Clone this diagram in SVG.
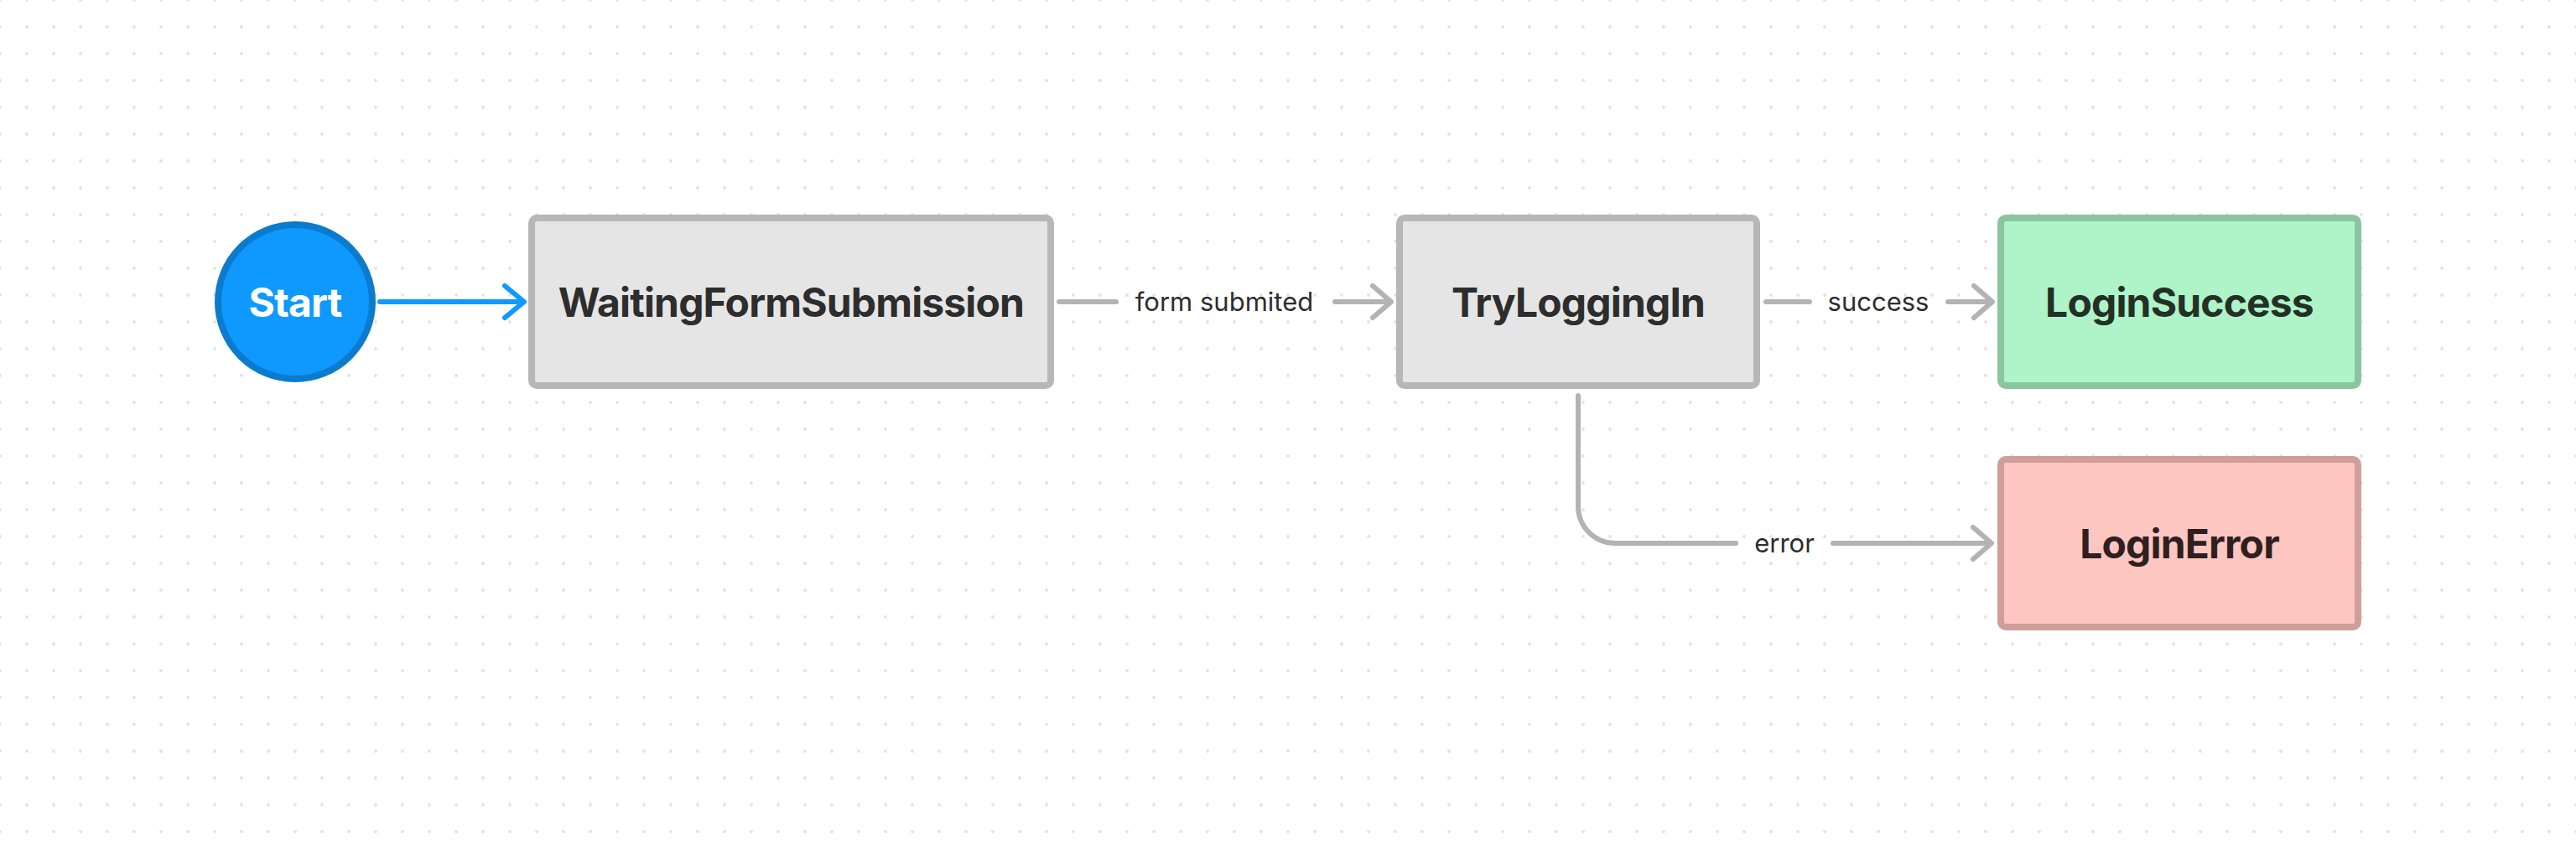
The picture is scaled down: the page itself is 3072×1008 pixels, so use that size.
<svg xmlns="http://www.w3.org/2000/svg" width="3072" height="1008" viewBox="0 0 3072 1008">
  <defs>
    <pattern id="dots" patternUnits="userSpaceOnUse" x="-16" y="-16" width="32" height="32">
      <circle cx="16" cy="16" r="1.9" fill="#e2e2e2"/>
    </pattern>
    <style>
      .node-text { font-family: Inter, "Liberation Sans", sans-serif; font-weight: 700; font-size: 48px; letter-spacing: -0.85px; text-anchor: middle; }
      .label { font-family: Inter, "Liberation Sans", sans-serif; font-weight: 400; font-size: 31px; text-anchor: middle; fill: #2d2d2d; }
      .gray { fill: #e5e5e5; stroke: #b7b7b7; stroke-width: 8; }
      .green { fill: #aef4c8; stroke: #8bc4a0; stroke-width: 8; }
      .red { fill: #fdc6c1; stroke: #d09e9a; stroke-width: 8; }
      .edge { fill: none; stroke: #b3b3b3; stroke-width: 6; stroke-linecap: round; stroke-linejoin: round; }
      .edge-start { fill: none; stroke: #1199ff; stroke-width: 6; stroke-linecap: round; stroke-linejoin: round; }
    </style>
  </defs>
  <rect width="3072" height="1008" fill="#ffffff"/>
  <rect width="3072" height="1008" fill="url(#dots)"/>

  <g id="connectors">
    <g id="edge-start">
      <path class="edge-start" d="M453 360 H624"/>
      <path class="edge-start" d="M602 341 L625 360 L602 379"/>
    </g>
    <g id="edge-form-submited">
      <path class="edge" d="M1263 360 H1331"/>
      <path class="edge" d="M1592 360 H1657"/>
      <path class="edge" d="M1637 341 L1659 360 L1637 379"/>
      <text class="label" x="1460" y="371">form submited</text>
    </g>
    <g id="edge-success">
      <path class="edge" d="M2106 360 H2158"/>
      <path class="edge" d="M2323 360 H2374"/>
      <path class="edge" d="M2354 341 L2376 360 L2354 379"/>
      <text class="label" x="2240" y="371">success</text>
    </g>
    <g id="edge-error">
      <path class="edge" d="M1882 472 V604 A44 44 0 0 0 1926 648 H2070"/>
      <path class="edge" d="M2186 648 H2373"/>
      <path class="edge" d="M2353 629 L2375 648 L2353 667"/>
      <text class="label" x="2128" y="659">error</text>
    </g>
  </g>

  <g id="node-start">
    <circle cx="352" cy="360" r="92" fill="#0f99ff" stroke="#0b7bcd" stroke-width="8"/>
    <text class="node-text" x="352" y="378" fill="#ffffff">Start</text>
  </g>
  <g id="node-waiting">
    <rect class="gray" x="634" y="260" width="619" height="200" rx="6"/>
    <text class="node-text" x="943.5" y="378" fill="#2d2d2d">WaitingFormSubmission</text>
  </g>
  <g id="node-trylogging">
    <rect class="gray" x="1669" y="260" width="426" height="200" rx="6"/>
    <text class="node-text" x="1882" y="378" fill="#2d2d2d">TryLoggingIn</text>
  </g>
  <g id="node-success">
    <rect class="green" x="2386" y="260" width="426" height="200" rx="6"/>
    <text class="node-text" x="2599" y="378" fill="#243026">LoginSuccess</text>
  </g>
  <g id="node-error">
    <rect class="red" x="2386" y="548" width="426" height="200" rx="6"/>
    <text class="node-text" x="2599" y="666" fill="#2f1f1f">LoginError</text>
  </g>
</svg>
